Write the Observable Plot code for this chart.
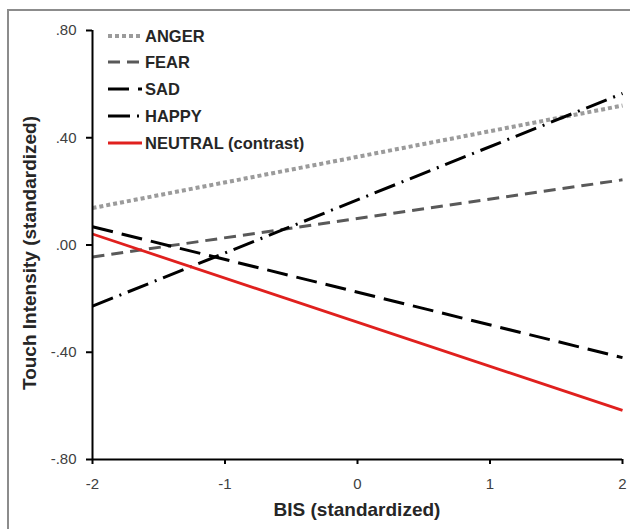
<!DOCTYPE html>
<html>
<head>
<meta charset="utf-8">
<script src="https://cdn.jsdelivr.net/npm/d3@7"></script>
<script src="https://cdn.jsdelivr.net/npm/@observablehq/plot@0.6"></script>
<style>
  html, body { margin: 0; padding: 0; background: #fff; }
  #wrap { position: relative; width: 630px; height: 529px; overflow: hidden; background: #fff; }
  #frame { position: absolute; left: 7px; top: 9px; width: 640px; height: 540px; border-top: 2px solid #8c8c8c; border-left: 2px solid #8c8c8c; box-sizing: border-box; }
  #chart { position: absolute; left: 0; top: 0; }
  .axt { position: absolute; font-family: "Liberation Sans", Arial, sans-serif; font-weight: bold; font-size: 19px; color: #262626; white-space: nowrap; }
  #legend { position: absolute; left: 0; top: 0; }
</style>
</head>
<body>
<div id="wrap">
  <div id="frame"></div>
  <div id="chart"></div>
  <div class="axt" id="xt">BIS (standardized)</div>
  <div class="axt" id="yt">Touch Intensity (standardized)</div>
  <svg id="legend" width="630" height="529"></svg>
</div>
<script>
// Data
const series = ["ANGER", "FEAR", "SAD", "HAPPY", "NEUTRAL (contrast)"];
const bisValues = [-2, 2];
const touchAtMinus2 = [0.138, -0.045, 0.068, -0.228, 0.041];
const touchAtPlus2 = [0.52, 0.243, -0.42, 0.565, -0.617];
const xTicks = [-2, -1, 0, 1, 2];
const yTicks = [-0.8, -0.4, 0, 0.4, 0.8];
const xLabel = "BIS (standardized)";
const yLabel = "Touch Intensity (standardized)";

// Styles
const colors = ["#9b9b9b", "#595959", "#000000", "#000000", "#e0201e"];
const dashes = ["4,3", "12,7", "21,9", "22,7,2,7", null];
const widths = [4, 3, 3, 3, 2.8];

const rows = [];
series.forEach((s, i) => {
  rows.push({series: s, bis: bisValues[0], touch: touchAtMinus2[i]});
  rows.push({series: s, bis: bisValues[1], touch: touchAtPlus2[i]});
});

const fmt = d => d === 0 ? ".00" : d3.format(".2f")(d).replace("\u2212", "-").replace("0.", ".");

const W = 630, H = 529;
const mL = 92, mR = 8, mT = 30, mB = 70;

const lineMarks = series.map((s, i) => Plot.line(rows.filter(r => r.series === s), {
  x: "bis", y: "touch",
  stroke: colors[i], strokeWidth: widths[i],
  strokeDasharray: dashes[i] || undefined,
  strokeLinecap: "butt"
}));

const chart = Plot.plot({
  width: W, height: H,
  marginLeft: mL, marginRight: mR, marginTop: mT, marginBottom: mB,
  style: {fontFamily: "'Liberation Sans', Arial, sans-serif", fontSize: "15px", color: "#404040", background: "transparent"},
  x: {domain: [-2, 2], ticks: xTicks, label: null},
  y: {domain: [-0.8, 0.8], ticks: yTicks, label: null},
  marks: [
    ...lineMarks,
    Plot.axisX({ticks: xTicks, tickSize: 5, tickPadding: 14, tickFormat: d => String(d).replace("\u2212", "-"), label: null, stroke: "#000", strokeWidth: 2, fontSize: 15, fill: "#404040"}),
    Plot.axisY({ticks: yTicks, tickSize: 6, tickPadding: 10, tickFormat: fmt, label: null, stroke: "#000", strokeWidth: 2, fontSize: 15, fill: "#404040"}),
    Plot.ruleX([-2], {stroke: "#000", strokeWidth: 2}),
    Plot.ruleY([-0.8], {stroke: "#000", strokeWidth: 2})
  ]
});
document.getElementById("chart").appendChild(chart);

// Axis titles
const xt = document.getElementById("xt");
xt.textContent = xLabel;
const xtw = xt.getBoundingClientRect().width;
xt.style.left = (mL + (W - mL - mR) / 2 - xtw / 2) + "px";
xt.style.top = (510 - 11) + "px";

const yt = document.getElementById("yt");
yt.textContent = yLabel;
const r = yt.getBoundingClientRect();
const cy = mT + (H - mT - mB) / 2 + 8;
yt.style.left = (30 - r.width / 2) + "px";
yt.style.top = (cy - r.height / 2) + "px";
yt.style.transform = "rotate(-90deg)";

// Legend
const lg = d3.select("#legend");
const rowY = [36, 62, 89, 116, 143];
series.forEach((s, i) => {
  const g = lg.append("g").attr("transform", `translate(0,${rowY[i]})`);
  g.append("line").attr("x1", 108).attr("x2", 142).attr("y1", 0).attr("y2", 0)
    .attr("stroke", colors[i]).attr("stroke-width", widths[i])
    .attr("stroke-dasharray", dashes[i]);
  g.append("text").attr("x", 145).attr("y", 0).attr("dy", "0.36em")
    .attr("font-family", "'Liberation Sans', Arial, sans-serif")
    .attr("font-weight", "bold").attr("font-size", "16.5px").attr("fill", "#262626")
    .text(s);
});
</script>
</body>
</html>
